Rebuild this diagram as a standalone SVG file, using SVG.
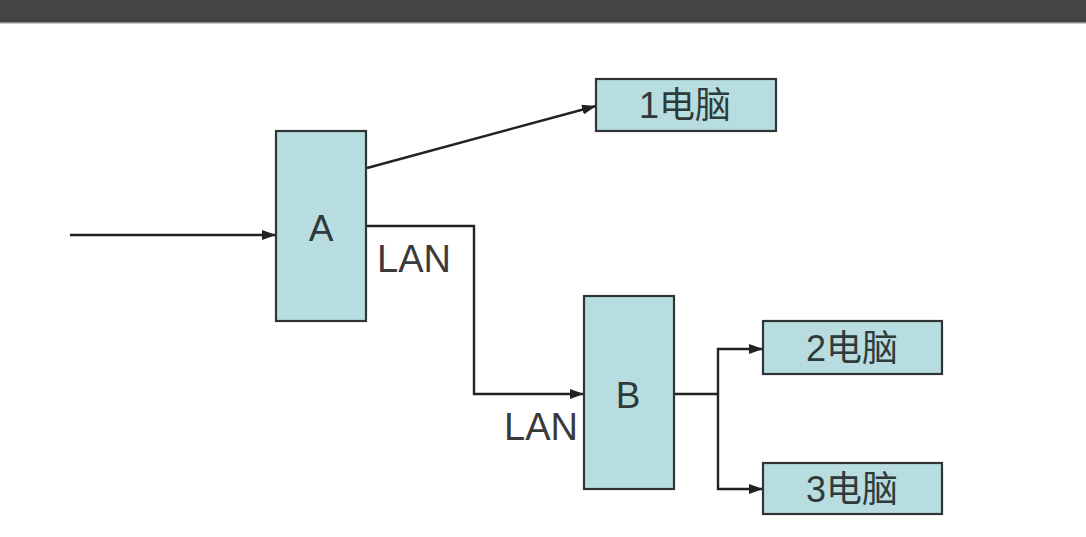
<svg xmlns="http://www.w3.org/2000/svg" width="1086" height="537" viewBox="0 0 1086 537">
<defs>
<marker id="ah" viewBox="0 0 14 10" refX="14" refY="5" markerWidth="14" markerHeight="10" markerUnits="userSpaceOnUse" orient="auto">
<path d="M0,0 L14,5 L0,10 Z" fill="#222"/>
</marker>
<style>
.box{fill:#b8dde0;stroke:#2f3535;stroke-width:2.2}
.lbl{font-family:"Liberation Sans","Noto Sans CJK SC",sans-serif;fill:#2f3a3a;text-anchor:middle}
.ln{fill:none;stroke:#222;stroke-width:2.4}
.lan{font-family:"Liberation Sans",sans-serif;fill:#3a3a3a;font-size:38px}
</style>
</defs>
<rect x="0" y="0" width="1086" height="537" fill="#fff"/>
<rect x="0" y="0" width="1086" height="22" fill="#444"/>
<rect x="0" y="22" width="1086" height="1" fill="#888"/>
<rect x="0" y="23" width="1086" height="1" fill="#ccc"/>
<g id="connectors">
<line class="ln" x1="70" y1="235" x2="276" y2="235" marker-end="url(#ah)"/>
<line class="ln" x1="367" y1="168" x2="596" y2="106" marker-end="url(#ah)"/>
<polyline class="ln" points="366,226 474,226 474,394 584,394" marker-end="url(#ah)"/>
<line class="ln" x1="674" y1="394" x2="718" y2="394"/>
<polyline class="ln" points="718,394 718,349 763,349" marker-end="url(#ah)"/>
<polyline class="ln" points="718,394 718,489 763,489" marker-end="url(#ah)"/>
<text class="lan" x="377" y="272">LAN</text>
<text class="lan" x="504" y="440">LAN</text>
</g>
<g id="nodeA">
<rect class="box" x="276" y="131" width="90" height="190"/>
<text class="lbl" x="321" y="241" font-size="37">A</text>
</g>
<g id="nodePC1">
<rect class="box" x="596" y="79" width="180" height="52"/>
<text class="lbl" x="685" y="118" font-size="36">1电脑</text>
</g>
<g id="nodeB">
<rect class="box" x="584" y="296" width="90" height="193"/>
<text class="lbl" x="628" y="408" font-size="37">B</text>
</g>
<g id="nodePC2">
<rect class="box" x="763" y="321" width="179" height="53"/>
<text class="lbl" x="852" y="361" font-size="36">2电脑</text>
</g>
<g id="nodePC3">
<rect class="box" x="763" y="463" width="179" height="51"/>
<text class="lbl" x="852" y="502" font-size="36">3电脑</text>
</g>
</svg>
